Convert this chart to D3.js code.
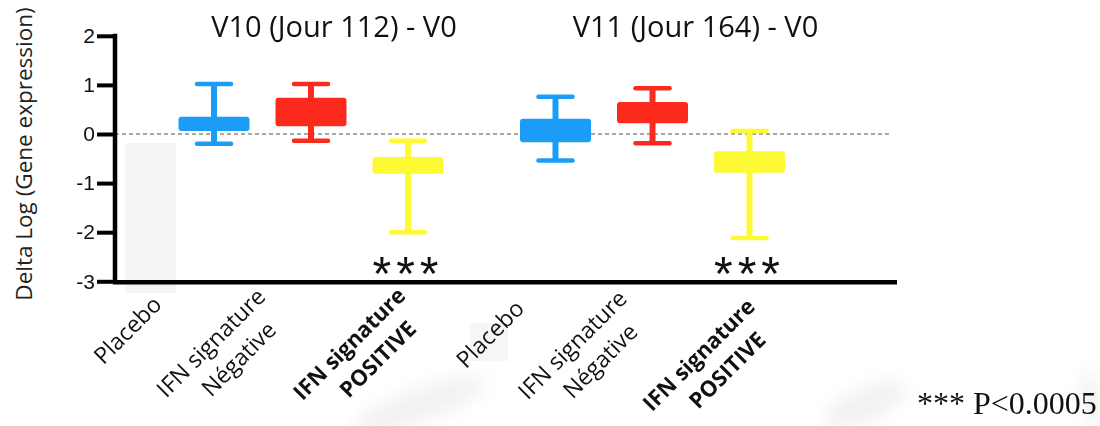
<!DOCTYPE html>
<html>
<head>
<meta charset="utf-8">
<script src="https://cdn.jsdelivr.net/npm/d3@7/dist/d3.min.js"></script>
<style>
  html, body { margin: 0; padding: 0; background: #fff; }
  svg { display: block; }
</style>
</head>
<body>
<svg id="chart" width="1100" height="426"></svg>
<script>
// Change in gene expression (delta log) from baseline V0, per visit and patient group
const visits = ["V10 (Jour 112) - V0", "V11 (Jour 164) - V0"];
const groups = ["Placebo", "IFN signature Négative", "IFN signature POSITIVE"];
const groupLabelLines = [["Placebo"], ["IFN signature", "Négative"], ["IFN signature", "POSITIVE"]];
const groupColors = ["#1b9cf6", "#fb2a1c", "#fdf935"];

// one entry per box, visit by visit: Placebo, Négative, POSITIVE
const whiskerHigh = [1.02, 1.02, -0.14, 0.76, 0.93, 0.06];
const boxHigh     = [0.35, 0.74, -0.47, 0.31, 0.65, -0.35];
const boxLow      = [0.06, 0.16, -0.81, -0.17, 0.22, -0.79];
const whiskerLow  = [-0.20, -0.14, -2.00, -0.54, -0.19, -2.12];
const significance = ["", "", "***", "", "", "***"];

const yTicks = [2, 1, 0, -1, -2, -3];
const pValueNote = "*** P<0.0005";
const yAxisTitle = "Delta Log (Gene expression)";

const boxes = whiskerHigh.map((hi, i) => ({
  visit: visits[Math.floor(i / groups.length)],
  group: groups[i % groups.length],
  gi: i % groups.length,
  hi, q3: boxHigh[i], q1: boxLow[i], lo: whiskerLow[i],
  sig: significance[i]
}));

const svg = d3.select("#chart");

const y = d3.scaleLinear().domain([-3, 2]).range([281.3, 35.8]);
const xVisit = d3.scalePoint().domain(visits).range([311, 652.5]);
const xGroup = d3.scalePoint().domain(groups).range([-97, 97]);
const cx = d => xVisit(d.visit) + xGroup(d.group);

const boxW = 71, capW = 34;
const axisX = 115, axisRight = 897;

// soft grey smudges in the background
const defs = svg.append("defs");
defs.append("filter").attr("id", "soft").attr("x", "-50%").attr("y", "-50%")
  .attr("width", "200%").attr("height", "200%")
  .append("feGaussianBlur").attr("stdDeviation", 9);
const haze = svg.append("g").attr("filter", "url(#soft)").attr("fill", "#f1f1f1");
haze.append("ellipse").attr("transform", "translate(420,405) rotate(-20)").attr("rx", 70).attr("ry", 16);
haze.append("ellipse").attr("transform", "translate(865,405) rotate(-25)").attr("rx", 45).attr("ry", 16);
haze.append("ellipse").attr("transform", "translate(1092,400) rotate(-10)").attr("rx", 10).attr("ry", 28);
svg.append("rect").attr("x", 125).attr("y", 143).attr("width", 51).attr("height", 150)
  .attr("fill", "#f5f5f5");
svg.append("rect").attr("x", 470).attr("y", 323).attr("width", 38).attr("height", 38)
  .attr("fill", "#f6f6f6");

// zero reference line
svg.append("line")
  .attr("x1", axisX).attr("x2", 892).attr("y1", y(0)).attr("y2", y(0))
  .attr("stroke", "#555").attr("stroke-width", 1.2).attr("stroke-dasharray", "4,3");

// boxes and whiskers
const bx = svg.append("g").selectAll("g").data(boxes).join("g")
  .attr("fill", d => groupColors[d.gi]).attr("stroke", d => groupColors[d.gi]);

bx.append("line")
  .attr("x1", cx).attr("x2", cx).attr("y1", d => y(d.hi)).attr("y2", d => y(d.lo))
  .attr("stroke-width", 6);
bx.append("line")
  .attr("x1", d => cx(d) - capW / 2).attr("x2", d => cx(d) + capW / 2)
  .attr("y1", d => y(d.hi)).attr("y2", d => y(d.hi))
  .attr("stroke-width", 4.5).attr("stroke-linecap", "round");
bx.append("line")
  .attr("x1", d => cx(d) - capW / 2).attr("x2", d => cx(d) + capW / 2)
  .attr("y1", d => y(d.lo)).attr("y2", d => y(d.lo))
  .attr("stroke-width", 4.5).attr("stroke-linecap", "round");
bx.append("rect")
  .attr("x", d => cx(d) - boxW / 2).attr("width", boxW)
  .attr("y", d => y(d.q3)).attr("height", d => y(d.q1) - y(d.q3))
  .attr("rx", 3).attr("stroke", "none");

// significance stars
svg.append("g").selectAll("text").data(boxes.filter(d => d.sig)).join("text")
  .attr("x", d => cx(d))
  .attr("y", 290)
  .attr("text-anchor", "middle")
  .attr("font-family", "Liberation Sans, Arial, sans-serif")
  .attr("font-size", 48).attr("letter-spacing", 5).attr("fill", "#111")
  .text(d => d.sig);

// y axis
const yAxis = d3.axisLeft(y).tickValues(yTicks).tickFormat(d3.format("d"))
  .tickSize(18).tickPadding(2);
const gy = svg.append("g").attr("transform", `translate(${axisX},0)`).call(yAxis);
gy.select(".domain").remove();
gy.selectAll(".tick line").attr("stroke", "#000").attr("stroke-width", 4);
gy.selectAll(".tick text")
  .attr("font-family", "Liberation Sans, Arial, sans-serif")
  .attr("font-size", 21).attr("fill", "#111").text(d => d < 0 ? "-" + Math.abs(d) : d);

// axis lines
svg.append("line").attr("x1", axisX).attr("x2", axisX)
  .attr("y1", y(2) - 2).attr("y2", y(-3) + 2.5)
  .attr("stroke", "#000").attr("stroke-width", 4.5);
svg.append("line").attr("x1", axisX - 2).attr("x2", axisRight)
  .attr("y1", y(-3) + 1).attr("y2", y(-3) + 1)
  .attr("stroke", "#000").attr("stroke-width", 4.5);

// y axis title
svg.append("text")
  .attr("transform", `translate(32,154) rotate(-90)`)
  .attr("text-anchor", "middle")
  .attr("font-family", "Open Sans, sans-serif").attr("font-size", 22.5).attr("fill", "#222")
  .text(yAxisTitle);

// visit titles
const titleOffset = [23, 43];
svg.append("g").selectAll("text").data(visits).join("text")
  .attr("x", (d, i) => xVisit(d) + titleOffset[i]).attr("y", 37)
  .attr("text-anchor", "middle")
  .attr("font-family", "Open Sans, sans-serif").attr("font-size", 29).attr("fill", "#111")
  .text(d => d);

// rotated group labels, right end of the first line anchored near each box
const labelOffset = [[-51, 306], [-44, 298], [-1, 297], [-30, 310], [-24, 300], [7, 308]];
const lab = svg.append("g").selectAll("g").data(boxes).join("g")
  .attr("transform", (d, i) => `translate(${cx(d) + labelOffset[i][0]},${labelOffset[i][1]}) rotate(-45)`);
lab.each(function (d) {
  const lines = groupLabelLines[d.gi];
  const bold = d.gi === 2;
  d3.select(this).selectAll("text").data(lines).join("text")
    .attr("x", (l, j) => j === 0 ? 0 : -16)
    .attr("y", (l, j) => j * 31)
    .attr("text-anchor", "end")
    .attr("font-family", "Open Sans, sans-serif")
    .attr("font-size", bold ? 22 : 23)
    .attr("font-weight", bold ? "bold" : "normal")
    .attr("fill", "#111")
    .text(l => l);
});

// significance note
svg.append("text").attr("x", 917).attr("y", 414)
  .attr("font-family", "Liberation Serif, Times New Roman, serif")
  .attr("font-size", 32).attr("fill", "#111")
  .text(pValueNote);
</script>
</body>
</html>
